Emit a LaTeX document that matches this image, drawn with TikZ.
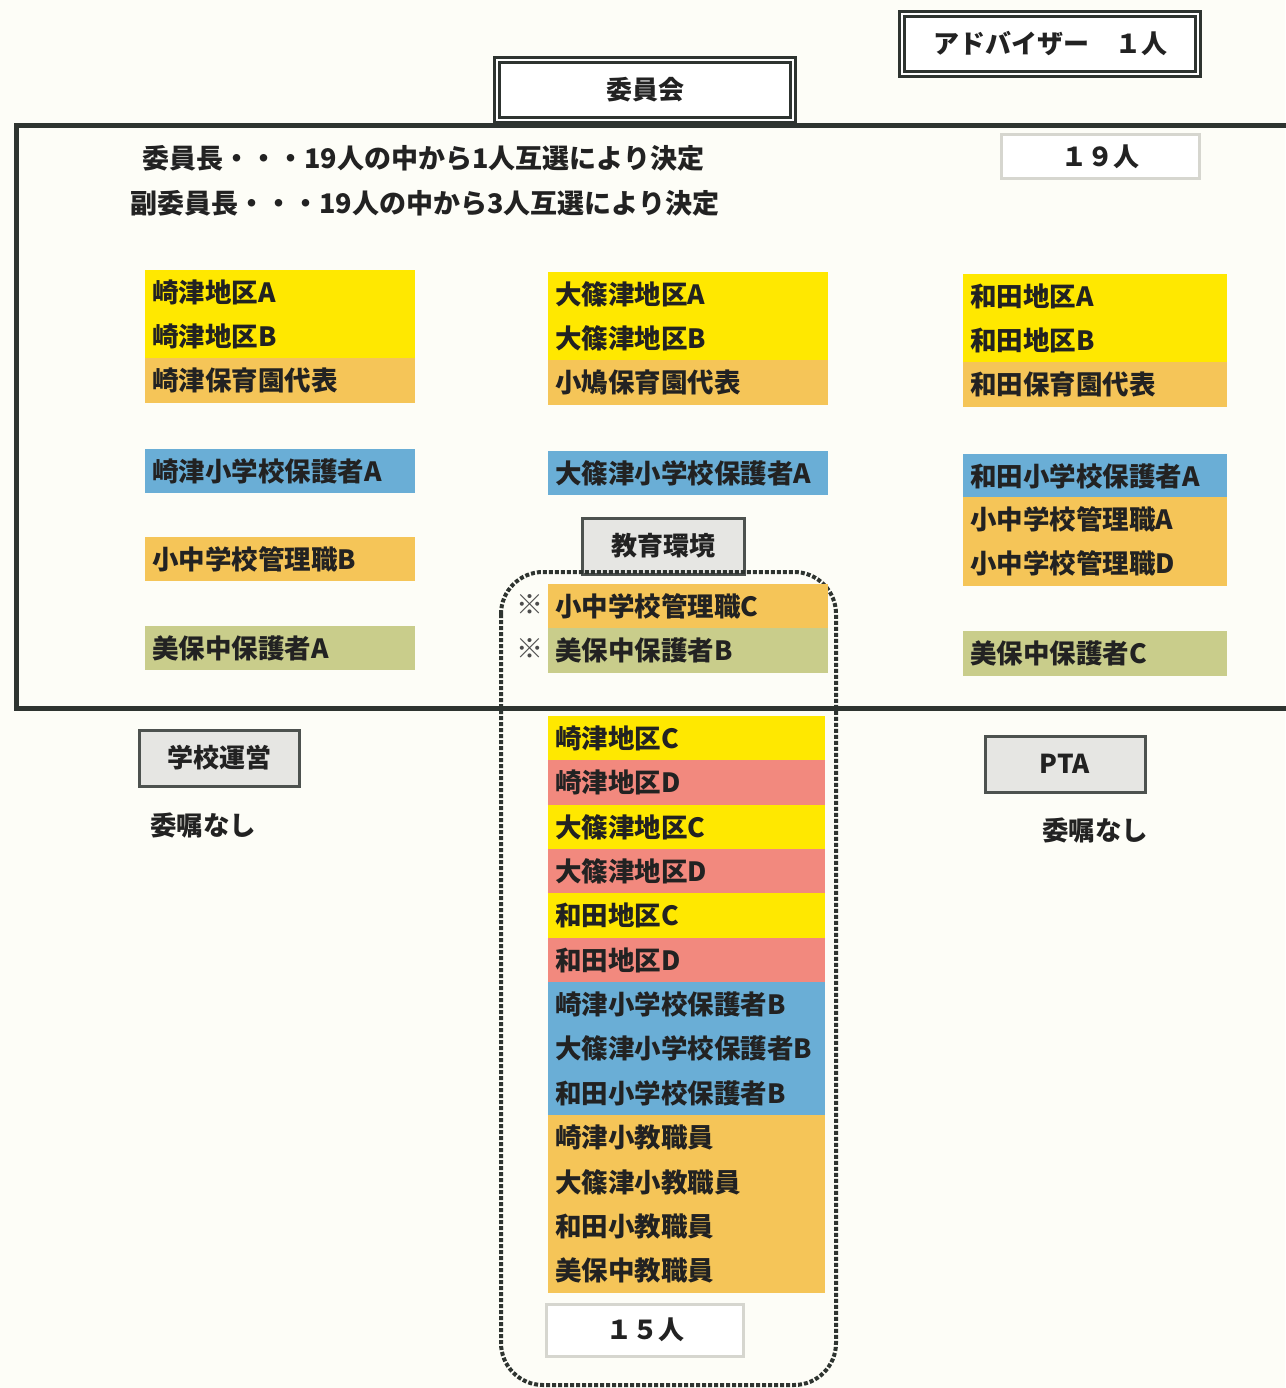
\documentclass[tikz,border=0pt]{standalone}
\usepackage{fontspec}
\setmainfont{Noto Sans CJK JP}
\definecolor{bgc}{HTML}{FDFDF7}
\definecolor{cy}{HTML}{FFE800}
\definecolor{co}{HTML}{F5C558}
\definecolor{cb}{HTML}{6AAED6}
\definecolor{cg}{HTML}{C9CD8B}
\definecolor{cp}{HTML}{F2897E}
\definecolor{frame}{HTML}{2E3430}
\definecolor{boxfill}{HTML}{E6E6E3}
\definecolor{lightline}{HTML}{D6D6CF}
\definecolor{txt}{HTML}{222222}
\tikzset{
  bar/.style={rectangle, anchor=north west, inner xsep=7pt, inner ysep=0pt,
    minimum height=45pt, text width=#1, align=left, text=txt,
    font=\fontsize{26.5}{26.5}\selectfont\bfseries},
  dbox/.style={rectangle, draw=frame, line width=3pt, double=white, double distance=2.5pt,
    fill=white, text=txt, font=\fontsize{26}{26}\selectfont\bfseries},
  gbox/.style={rectangle, draw=frame!85, line width=3pt, fill=boxfill, text=txt,
    font=\fontsize{26}{26}\selectfont\bfseries},
  lbox/.style={rectangle, draw=lightline, line width=3pt, fill=white, text=txt,
    font=\fontsize{26}{26}\selectfont\bfseries},
  plain/.style={text=txt, inner sep=0pt, font=\fontsize{26.5}{26.5}\selectfont\bfseries},
  refmark/.style={text=gray!60!black, inner sep=0pt, font=\fontsize{27}{27}\selectfont\bfseries}
}
\begin{document}
\begin{tikzpicture}[x=1pt,y=-1pt]
\fill[bgc] (0,0) rectangle (1285,1388);
\useasboundingbox (0,0) rectangle (1285,1388);

% main frame
\draw[frame, line width=5pt] (1300,126) -- (16,126) -- (16,708) -- (1300,708);

% top boxes
\node[dbox, minimum width=296pt, minimum height=60pt] (adv) at (1050,44) {アドバイザー　１人};
\node[dbox, minimum width=296pt, minimum height=60pt] (iin) at (645,90) {委員会};
\node[lbox, minimum width=198pt, minimum height=44pt] (n19) at (1100,157) {１９人};

\node[plain, anchor=west, font=\fontsize{27}{27}\selectfont\bfseries] (t1) at (142,158) {委員長・・・19人の中から1人互選により決定};
\node[plain, anchor=west, font=\fontsize{27}{27}\selectfont\bfseries] (t2) at (130,203) {副委員長・・・19人の中から3人互選により決定};

% column 1
\node[bar=256pt, fill=cy] (a1) at (145,270) {崎津地区A};
\node[bar=256pt, fill=cy] (a2) at (145,314) {崎津地区B};
\node[bar=256pt, fill=co] (a3) at (145,358) {崎津保育園代表};
\node[bar=256pt, fill=cb, minimum height=44pt] (a4) at (145,449) {崎津小学校保護者A};
\node[bar=256pt, fill=co, minimum height=44pt] (a5) at (145,537) {小中学校管理職B};
\node[bar=256pt, fill=cg, minimum height=44pt] (a6) at (145,626) {美保中保護者A};

% column 2
\node[bar=266pt, fill=cy] (b1) at (548,272) {大篠津地区A};
\node[bar=266pt, fill=cy] (b2) at (548,316) {大篠津地区B};
\node[bar=266pt, fill=co] (b3) at (548,360) {小鳩保育園代表};
\node[bar=266pt, fill=cb, minimum height=44pt] (b4) at (548,451) {大篠津小学校保護者A};

% column 3
\node[bar=250pt, fill=cy] (c1) at (963,274) {和田地区A};
\node[bar=250pt, fill=cy] (c2) at (963,318) {和田地区B};
\node[bar=250pt, fill=co] (c3) at (963,362) {和田保育園代表};
\node[bar=250pt, fill=cb] (c4) at (963,454) {和田小学校保護者A};
\node[bar=250pt, fill=co] (c5) at (963,497) {小中学校管理職A};
\node[bar=250pt, fill=co] (c6) at (963,541) {小中学校管理職D};
\node[bar=250pt, fill=cg] (c7) at (963,631) {美保中保護者C};

% education environment group
\node[gbox, minimum width=162pt, minimum height=56pt] (edu) at (663,546) {教育環境};
\draw[frame, line width=4pt, dotted, rounded corners=42pt] (501,572) rectangle (836,1385);

\node[bar=266pt, fill=co] (d1) at (548,584) {小中学校管理職C};
\node[bar=266pt, fill=cg] (d2) at (548,628) {美保中保護者B};
\node[refmark] (m1) at (530,605) {※};
\node[refmark] (m2) at (530,649) {※};

\node[bar=263pt, fill=cy] (e1) at (548,716) {崎津地区C};
\node[bar=263pt, fill=cp] (e2) at (548,760) {崎津地区D};
\node[bar=263pt, fill=cy] (e3) at (548,805) {大篠津地区C};
\node[bar=263pt, fill=cp] (e4) at (548,849) {大篠津地区D};
\node[bar=263pt, fill=cy] (e5) at (548,893) {和田地区C};
\node[bar=263pt, fill=cp] (e6) at (548,938) {和田地区D};
\node[bar=263pt, fill=cb] (e7) at (548,982) {崎津小学校保護者B};
\node[bar=263pt, fill=cb] (e8) at (548,1026) {大篠津小学校保護者B};
\node[bar=263pt, fill=cb] (e9) at (548,1071) {和田小学校保護者B};
\node[bar=263pt, fill=co] (e10) at (548,1115) {崎津小教職員};
\node[bar=263pt, fill=co] (e11) at (548,1160) {大篠津小教職員};
\node[bar=263pt, fill=co] (e12) at (548,1204) {和田小教職員};
\node[bar=263pt, fill=co] (e13) at (548,1248) {美保中教職員};

\node[lbox, minimum width=197pt, minimum height=52pt] (n15) at (645,1330) {１５人};

% below frame
\node[gbox, minimum width=160pt, minimum height=56pt] (gakko) at (219,758) {学校運営};
\node[plain, anchor=west] (g2) at (150,825) {委嘱なし};
\node[gbox, minimum width=160pt, minimum height=56pt] (pta) at (1065,764) {PTA};
\node[plain, anchor=west] (p2) at (1042,830) {委嘱なし};
\end{tikzpicture}
\end{document}
